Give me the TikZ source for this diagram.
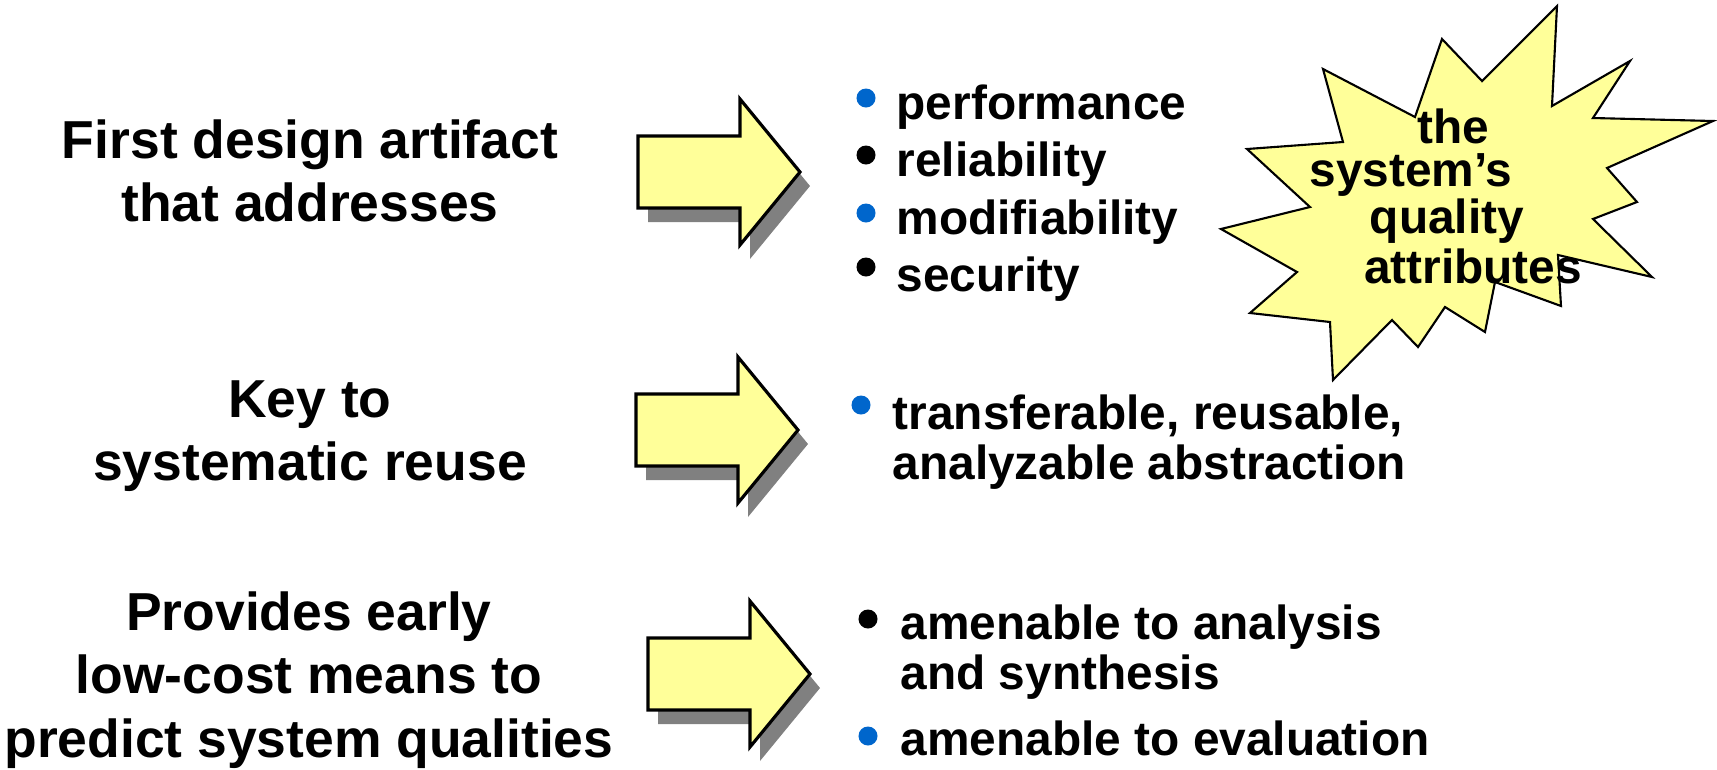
\documentclass[tikz,border=0pt]{standalone}
\usepackage{fontspec}
\setmainfont{Liberation Sans}
\usetikzlibrary{positioning}
\definecolor{pale}{HTML}{FFFF99}
\definecolor{dotblue}{HTML}{0066CC}
\definecolor{shadowgray}{HTML}{808080}

\begin{document}
\begin{tikzpicture}[x=0.01cm, y=-0.01cm,
        lefttext/.style={align=center, font=\fontsize{15.2}{18}\selectfont\bfseries},
        item/.style={anchor=west, align=left, inner sep=0pt, font=\fontsize{13.6}{14.3}\selectfont\bfseries},
        bluedot/.style={circle, fill=dotblue, inner sep=0pt, minimum size=0.19cm},
        blackdot/.style={circle, fill=black, inner sep=0pt, minimum size=0.19cm},
        bursttext/.style={inner sep=0pt, font=\fontsize{13.6}{14}\selectfont\bfseries}]
        \useasboundingbox (0,0) rectangle (1717,769);

        % Venstre tekst
        \node[lefttext] (first) at (310,171) {First design artifact\\that addresses};
        \node[lefttext] (key) at (310,436) {Key to\\systematic reuse};
        \node[lefttext] (early) at (309,680) {Provides early\\low-cost means to\\predict system qualities};

        % Piler
        \foreach \px/\py in {638/172, 636/430, 648/674} {
            \begin{scope}[shift={(\px,\py)}]
                \fill[shadowgray] (10,-22) -- (112,-22) -- (112,-59) -- (172,14) -- (112,87) -- (112,50) -- (10,50) -- cycle;
                \draw[fill=pale, line width=0.9pt] (0,-36) -- (102,-36) -- (102,-73) -- (162,0) -- (102,73) -- (102,36) -- (0,36) -- cycle;
            \end{scope}
        }

        % Punkter
        \node[item] (perf) at (896,107) {performance};
        \node[item] (rel) at (896,164) {reliability};
        \node[item] (mod) at (896,222) {modifiability};
        \node[item] (sec) at (896,279) {security};
        \node[item] (reuse) at (892,442) {transferable, reusable,\\analyzable abstraction};
        \node[item] (anal) at (900,652) {amenable to analysis\\and synthesis};
        \node[item] (eval) at (900,738) {amenable to evaluation};

        \node[bluedot] (d1) at (866,98) {};
        \node[blackdot] (d2) at (866,155) {};
        \node[bluedot] (d3) at (866,213) {};
        \node[blackdot] (d4) at (866,267) {};
        \node[bluedot] (d5) at (861,405) {};
        \node[blackdot] (d6) at (868,619) {};
        \node[bluedot] (d7) at (868,736) {};

        % Stjerne
        \draw[fill=pale, line width=0.6pt] (1557,6) -- (1552,106) -- (1630,61) -- (1593,118) -- (1713,121)
            -- (1607,168) -- (1637,202) -- (1593,219) -- (1652,277) -- (1558,255) -- (1561,306)
            -- (1495,282) -- (1485,332) -- (1445,307) -- (1418,347) -- (1392,320) -- (1333,380)
            -- (1330,322) -- (1250,313) -- (1297,272) -- (1221,229) -- (1310,207) -- (1247,149)
            -- (1343,142) -- (1323,69) -- (1415,117) -- (1442,39) -- (1482,81) -- cycle;
        \node[bursttext] (the) at (1453,126) {the};
        \node[bursttext] (sys) at (1411,175) {system’s};
        \node[bursttext] (qual) at (1447,221) {quality};
        \node[bursttext] (attr) at (1473,266) {attributes};
    \end{tikzpicture}
\end{document}
